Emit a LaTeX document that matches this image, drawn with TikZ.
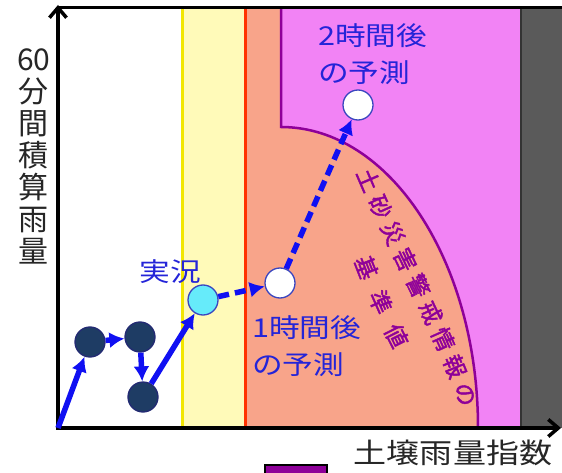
\documentclass[tikz,border=0pt]{standalone}
\usepackage{fontspec}
\usepackage{tikz}
\usetikzlibrary{arrows.meta,positioning,decorations.text}
\newfontfamily\jpfont{Noto Sans CJK JP}
\newfontfamily\jpwide[FakeStretch=1.18]{Noto Sans CJK JP}
\newfontfamily\jpbold[FakeBold=1.8]{Noto Sans CJK JP}
\definecolor{cblue}{HTML}{1010F2}
\definecolor{cblueT}{HTML}{2424D8}
\definecolor{cblueD}{HTML}{3A46C0}
\definecolor{cdot}{HTML}{1E3C64}
\definecolor{cnow}{HTML}{66EBFA}
\definecolor{cyel}{HTML}{FFFAB9}
\definecolor{cyelD}{HTML}{F2E600}
\definecolor{csalm}{HTML}{F8A48A}
\definecolor{credD}{HTML}{FF3300}
\definecolor{cmag}{HTML}{F283F5}
\definecolor{cpurp}{HTML}{8E0099}
\definecolor{cgray}{HTML}{5A5A5A}
\tikzset{
  dot/.style={circle, inner sep=0pt, minimum size=30pt, line width=1.3pt},
  ndark/.style={dot, fill=cdot, draw=cblueD!60!black},
  nnow/.style={dot, fill=cnow, draw=cblueD},
  npred/.style={dot, fill=white, draw=cblueD},
  flow/.style={-{Latex[length=15pt,width=16pt]}, line width=5.5pt, draw=cblue},
  flowd/.style={flow, dash pattern=on 11pt off 6pt},
  lbl/.style={font=\jpwide\fontsize{26}{37}\selectfont, text=cblueT, align=left, inner sep=0pt},
  axislbl/.style={font=\jpfont\fontsize{30}{32}\selectfont, text=black!85, align=center, inner sep=0pt},
  axis/.style={-{Straight Barb[length=10pt,width=17pt]}, line width=3.5pt},
  curvetxt/.style={decorate, decoration={text along path, text align={fit to path},
               text={|\jpbold\fontsize{23}{23}\selectfont\color{cpurp}|#1}}},
}

\begin{document}
\begin{tikzpicture}[x=1pt,y=1pt]
  \useasboundingbox (0,0) rectangle (562,472);
  \clip (0,0) rectangle (562,472);
  % warning zones
  \fill[cyel] (182,44) rectangle (245,464);
  \fill[csalm] (245,44) rectangle (521,464);
  \fill[cmag] (281,464) -- (281,345) arc[start angle=90, end angle=0, x radius=197, y radius=301]
    -- (521,44) -- (521,464) -- cycle;
  \fill[cgray] (521,44) rectangle (562,464);
  \draw[cyelD, line width=3pt] (182,44) -- (182,464);
  \draw[credD, line width=3pt] (245,44) -- (245,464);
  \draw[cpurp, line width=2.5pt] (281,464) -- (281,345)
    arc[start angle=90, end angle=0, x radius=197, y radius=301];
  \draw[black!80, line width=2pt] (521,44) -- (521,464);
  \draw[line width=3pt] (58,464) -- (562,464);
  % text along the threshold curve
  \path[curvetxt=土砂災害警戒情報の] (356,299) .. controls (391,215) and (438,135) .. (461,64);
  \path[curvetxt=基準値] (354,212) .. controls (364,185) and (380,148) .. (394,122);
  % axes
  \coordinate (o) at (58,44);
  \coordinate (ytop) at (58,467);
  \coordinate (xend) at (561,44);
  \draw[axis] ([yshift=-1.75pt]o) -- (ytop);
  \draw[axis] ([xshift=-1.75pt]o) -- (xend);
  \node[axislbl] (ylab) at (34,316) {60\\分\\間\\積\\算\\雨\\量};
  \node[axislbl, font=\jpwide\fontsize{28}{30}\selectfont] (xlab) at (453,19) {土壌雨量指数};
  % legend box, cut by the page edge
  \draw[fill=cpurp, line width=2pt] (265,-10) rectangle (327,7);
  % rainfall points
  \node[ndark] (a) at (90,130) {};
  \node[ndark] (b) at (140,135) {};
  \node[ndark] (c) at (143,75) {};
  \node[nnow] (now) at (203,172) {};
  \node[npred] (p1) at (280,189) {};
  \node[npred] (p2) at (358,367) {};
  \node[lbl] (lnow) at (170,200) {実況};
  \node[lbl, anchor=west] (lp1) at (252,126) {1時間後\\の予測};
  \node[lbl, anchor=west] (lp2) at (318,418) {2時間後\\の予測};
  \draw[flow] (o) -- (a);
  \foreach \p/\q in {a/b,b/c,c/now} \draw[flow] (\p)--(\q);
  \foreach \p/\q in {now/p1,p1/p2} \draw[flowd] (\p)--(\q);
\end{tikzpicture}
\end{document}
